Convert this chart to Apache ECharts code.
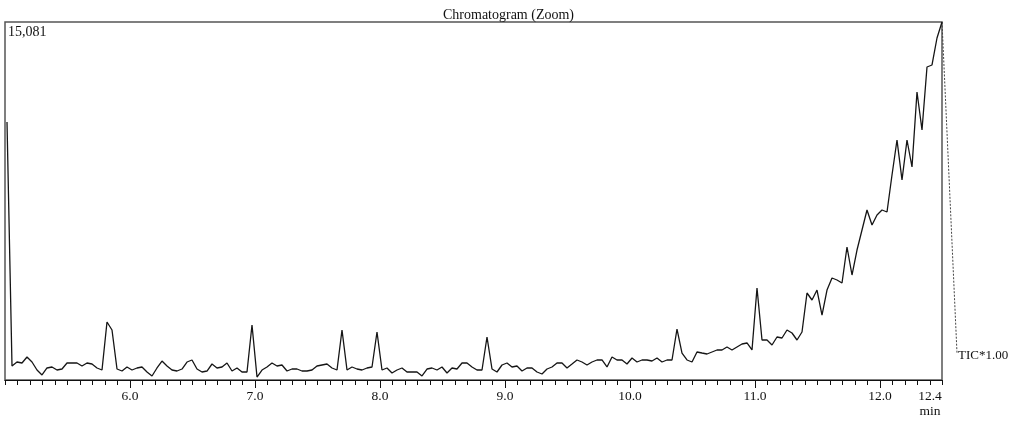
<!DOCTYPE html>
<html><head><meta charset="utf-8">
<script src="https://cdn.jsdelivr.net/npm/echarts@6/dist/echarts.min.js"></script>
<style>html,body{margin:0;padding:0;background:#fff}#c{width:1017px;height:425px}</style>
</head><body><div id="c"></div>
<script>
// Chromatogram (Zoom) — TIC intensity sampled every 0.04 min from 5.016 min
const TITLE = 'Chromatogram (Zoom)';
const TRACE_LABEL = 'TIC*1.00';
const X_UNIT = 'min';
const Y_MAX = 15081;
const X_MIN = 5.0, X_MAX = 12.496;
const START_MIN = 5.016, STEP_MIN = 0.04;
const majorTicks = [6, 7, 8, 9, 10, 11, 12];
const labelValues = [6, 7, 8, 9, 10, 11, 12, 12.4];
const tickLabels = ['6.0', '7.0', '8.0', '9.0', '10.0', '11.0', '12.0', '12.4'];

const intensity = [
  10868, 590, 758, 716, 969, 758, 421, 211, 506, 548,
  421, 463, 716, 716, 716, 590, 716, 674, 506, 421,
  2443, 2106, 463, 379, 548, 421, 506, 548, 337, 169,
  506, 800, 590, 421, 379, 463, 758, 843, 463, 337,
  379, 674, 506, 548, 716, 379, 506, 337, 337, 2317,
  126, 421, 548, 716, 590, 632, 379, 463, 463, 379,
  379, 421, 590, 632, 674, 506, 421, 2106, 421, 548,
  463, 421, 506, 548, 2022, 421, 506, 295, 421, 506,
  337, 337, 337, 169, 463, 506, 421, 548, 295, 506,
  463, 716, 716, 548, 421, 421, 1811, 463, 337, 632,
  716, 548, 590, 379, 506, 506, 337, 253, 463, 548,
  716, 716, 506, 674, 843, 758, 632, 758, 843, 843,
  548, 969, 843, 843, 674, 927, 758, 843, 843, 800,
  927, 758, 843, 843, 2148, 1137, 843, 758, 1180, 1137,
  1095, 1180, 1264, 1264, 1390, 1264, 1390, 1517, 1559, 1264,
  3876, 1685, 1685, 1474, 1811, 1769, 2106, 1980, 1685, 2022,
  3665, 3370, 3791, 2738, 3791, 4297, 4213, 4086, 5603, 4423,
  5476, 6319, 7161, 6530, 6951, 7161, 7077, 8636, 10110, 8425,
  10110, 8973, 12132, 10532, 13185, 13270, 14407, 15081
];

const times = intensity.map((_, i) => +(START_MIN + i * STEP_MIN).toFixed(3));
const data = intensity.map((v, i) => [times[i], v]);

const FONT = 'Liberation Serif';
const chart = echarts.init(document.getElementById('c'), null, { renderer: 'canvas' });

chart.setOption({
  animation: false,
  backgroundColor: '#fff',
  title: {
    text: TITLE, left: 'center', top: 3,
    textStyle: { fontFamily: FONT, fontSize: 14, fontWeight: 'normal', color: '#111' }
  },
  grid: { left: 5, top: 22, width: 937, height: 358, show: true, borderColor: '#555', borderWidth: 1.5 },
  xAxis: [
    {
      type: 'value', min: X_MIN, max: X_MAX, position: 'bottom',
      axisLine: { show: true, lineStyle: { color: '#111', width: 1.2 } },
      axisTick: { show: true, customValues: majorTicks, length: 8, lineStyle: { color: '#111' } },
      axisLabel: {
        customValues: labelValues, margin: 9, fontFamily: FONT, fontSize: 13.5, color: '#111', lineHeight: 15,
        formatter: v => {
          const k = labelValues.findIndex(t => Math.abs(t - v) < 1e-6);
          const s = k >= 0 ? tickLabels[k] : v.toFixed(1);
          return k === labelValues.length - 1 ? s + '\n' + X_UNIT : s;
        }
      },
      splitLine: { show: false }
    },
    {
      type: 'value', min: X_MIN, max: X_MAX, interval: 0.1, position: 'bottom', offset: 0,
      axisLine: { show: false },
      axisTick: { show: true, length: 5, lineStyle: { color: '#111' } },
      axisLabel: { show: false },
      splitLine: { show: false }
    }
  ],
  yAxis: { type: 'value', min: 0, max: Y_MAX, show: false, splitLine: { show: false } },
  series: [{
    type: 'line', xAxisIndex: 0, yAxisIndex: 0, data: data,
    showSymbol: false, symbol: 'none',
    lineStyle: { color: '#151515', width: 1.3 }
  }]
});

const last = data[data.length - 1];
const [px, py] = chart.convertToPixel({ xAxisIndex: 0, yAxisIndex: 0 }, last);
chart.setOption({
  graphic: [
    { type: 'line', shape: { x1: px, y1: py, x2: px + 15, y2: 353 },
      style: { stroke: '#444', lineWidth: 1, lineDash: [2, 1.5] } },
    { type: 'text', x: px + 16, y: 349,
      style: { text: TRACE_LABEL, font: '13px "Liberation Serif"', fill: '#111' } },
    { type: 'text', x: 8, y: 25,
      style: { text: Y_MAX.toLocaleString('en-US'), font: '14px "Liberation Serif"', fill: '#111' } }
  ]
});
</script></body></html>
